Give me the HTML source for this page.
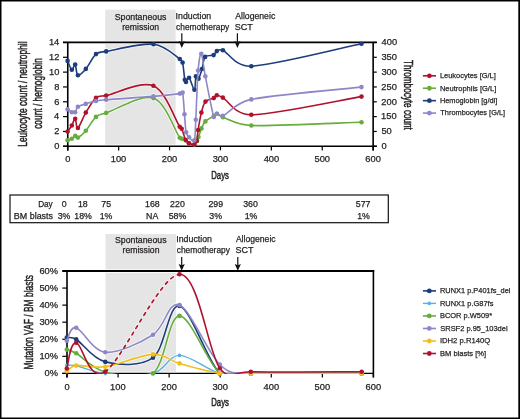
<!DOCTYPE html>
<html><head><meta charset="utf-8"><style>
html,body{margin:0;padding:0;background:#fff;}
svg{display:block;will-change:transform;}
text{font-family:"Liberation Sans", sans-serif;}
</style></head><body>
<svg width="520" height="419" viewBox="0 0 520 419">
<rect x="0" y="0" width="520" height="419" fill="#000"/>
<rect x="1.5" y="1.5" width="516.8" height="416" fill="#fff"/>
<rect x="105.2" y="9.7" width="70.4" height="134.9" fill="#e5e5e5"/><rect x="105.2" y="40.8" width="70.4" height="3.4" fill="#fff"/>
<line x1="63" y1="42.45" x2="376.8" y2="42.45" stroke="#000" stroke-width="1.7"/>
<line x1="63" y1="146.3" x2="376.8" y2="146.3" stroke="#000" stroke-width="1.6"/>
<line x1="67.75" y1="42.45" x2="67.75" y2="150.6" stroke="#000" stroke-width="1.6"/>
<line x1="373.15" y1="42.45" x2="373.15" y2="150.6" stroke="#000" stroke-width="1.6"/>
<line x1="63" y1="146.3" x2="67.75" y2="146.3" stroke="#000" stroke-width="1.2"/>
<line x1="373.15" y1="146.3" x2="376.8" y2="146.3" stroke="#000" stroke-width="1.2"/>
<line x1="63" y1="131.46" x2="67.75" y2="131.46" stroke="#000" stroke-width="1.2"/>
<line x1="373.15" y1="131.46" x2="376.8" y2="131.46" stroke="#000" stroke-width="1.2"/>
<line x1="63" y1="116.63" x2="67.75" y2="116.63" stroke="#000" stroke-width="1.2"/>
<line x1="373.15" y1="116.63" x2="376.8" y2="116.63" stroke="#000" stroke-width="1.2"/>
<line x1="63" y1="101.79" x2="67.75" y2="101.79" stroke="#000" stroke-width="1.2"/>
<line x1="373.15" y1="101.79" x2="376.8" y2="101.79" stroke="#000" stroke-width="1.2"/>
<line x1="63" y1="86.96" x2="67.75" y2="86.96" stroke="#000" stroke-width="1.2"/>
<line x1="373.15" y1="86.96" x2="376.8" y2="86.96" stroke="#000" stroke-width="1.2"/>
<line x1="63" y1="72.12" x2="67.75" y2="72.12" stroke="#000" stroke-width="1.2"/>
<line x1="373.15" y1="72.12" x2="376.8" y2="72.12" stroke="#000" stroke-width="1.2"/>
<line x1="63" y1="57.29" x2="67.75" y2="57.29" stroke="#000" stroke-width="1.2"/>
<line x1="373.15" y1="57.29" x2="376.8" y2="57.29" stroke="#000" stroke-width="1.2"/>
<line x1="63" y1="42.45" x2="67.75" y2="42.45" stroke="#000" stroke-width="1.2"/>
<line x1="373.15" y1="42.45" x2="376.8" y2="42.45" stroke="#000" stroke-width="1.2"/>
<line x1="67.75" y1="146.3" x2="67.75" y2="150.4" stroke="#000" stroke-width="1.2"/>
<line x1="118.65" y1="146.3" x2="118.65" y2="150.4" stroke="#000" stroke-width="1.2"/>
<line x1="169.55" y1="146.3" x2="169.55" y2="150.4" stroke="#000" stroke-width="1.2"/>
<line x1="220.45" y1="146.3" x2="220.45" y2="150.4" stroke="#000" stroke-width="1.2"/>
<line x1="271.35" y1="146.3" x2="271.35" y2="150.4" stroke="#000" stroke-width="1.2"/>
<line x1="322.25" y1="146.3" x2="322.25" y2="150.4" stroke="#000" stroke-width="1.2"/>
<line x1="373.15" y1="146.3" x2="373.15" y2="150.4" stroke="#000" stroke-width="1.2"/>
<clipPath id="ct"><rect x="60" y="30" width="320" height="117"/></clipPath>
<clipPath id="cb"><rect x="60" y="260" width="320" height="114.1"/></clipPath>
<clipPath id="gt"><rect x="105.2" y="44.2" width="70.4" height="100.4"/></clipPath>
<clipPath id="gb"><rect x="105.5" y="272.8" width="70.5" height="98.9"/></clipPath>
<g clip-path="url(#gt)" opacity="0.7"><path d="M67.6,140.2 C68.3,139.95 70.53,139.42 71.8,138.7 C73.07,137.98 74.18,136.08 75.2,135.9 C76.22,135.72 76.46,138.29 77.9,137.6 C79.67,136.75 82.78,134.25 85.8,130.8 C88.82,127.35 92.6,119.88 96,116.9 C99.4,113.92 100.99,114.61 106.2,112.9 C115.77,109.77 141.15,93.97 153.4,98.1 C165.65,102.23 174.93,130.93 179.7,137.7 C180.42,138.73 181,138.28 182,138.7 C183,139.12 184.53,139.45 185.7,140.2 C186.87,140.95 187.57,142.47 189,143.2 C190.43,143.93 192.98,144.98 194.3,144.6 C195.62,144.22 196.2,142.17 196.9,140.9 C197.6,139.63 197.77,138.98 198.5,137 C199.27,134.92 200.35,131 201.5,128.4 C202.65,125.8 203.35,123.47 205.4,121.4 C207.45,119.33 211.88,117.27 213.8,116 C215.39,114.95 215.38,113.58 216.9,113.8 C218.42,114.02 219.61,116.18 222.9,117.3 C228.63,119.25 236.53,124.98 251.3,125.5 C274.4,126.32 343.13,122.75 361.5,122.2" fill="none" stroke="#fff" stroke-width="3.2" stroke-linejoin="round"/><circle cx="67.6" cy="140.2" r="3.0999999999999996" fill="#fff"/><circle cx="71.8" cy="138.7" r="3.0999999999999996" fill="#fff"/><circle cx="75.2" cy="135.9" r="3.0999999999999996" fill="#fff"/><circle cx="77.9" cy="137.6" r="3.0999999999999996" fill="#fff"/><circle cx="85.8" cy="130.8" r="3.0999999999999996" fill="#fff"/><circle cx="96" cy="116.9" r="3.0999999999999996" fill="#fff"/><circle cx="106.2" cy="112.9" r="3.0999999999999996" fill="#fff"/><circle cx="153.4" cy="98.1" r="3.0999999999999996" fill="#fff"/><circle cx="179.7" cy="137.7" r="3.0999999999999996" fill="#fff"/><circle cx="182" cy="138.7" r="3.0999999999999996" fill="#fff"/><circle cx="185.7" cy="140.2" r="3.0999999999999996" fill="#fff"/><circle cx="189" cy="143.2" r="3.0999999999999996" fill="#fff"/><circle cx="194.3" cy="144.6" r="3.0999999999999996" fill="#fff"/><circle cx="196.9" cy="140.9" r="3.0999999999999996" fill="#fff"/><circle cx="198.5" cy="137" r="3.0999999999999996" fill="#fff"/><circle cx="201.5" cy="128.4" r="3.0999999999999996" fill="#fff"/><circle cx="205.4" cy="121.4" r="3.0999999999999996" fill="#fff"/><circle cx="213.8" cy="116" r="3.0999999999999996" fill="#fff"/><circle cx="216.9" cy="113.8" r="3.0999999999999996" fill="#fff"/><circle cx="222.9" cy="117.3" r="3.0999999999999996" fill="#fff"/><circle cx="251.3" cy="125.5" r="3.0999999999999996" fill="#fff"/><circle cx="361.5" cy="122.2" r="3.0999999999999996" fill="#fff"/></g>
<g clip-path="url(#gt)" opacity="0.7"><path d="M67.6,131.5 C68.3,130.5 70.53,127.63 71.8,125.5 C73.07,123.37 74.18,118.28 75.2,118.7 C76.22,119.12 76.13,129.02 77.9,128 C79.67,126.98 82.78,117.62 85.8,112.6 C88.82,107.58 92.6,100.73 96,97.9 C99.4,95.07 101.08,96.68 106.2,95.6 C115.77,93.58 141.15,80.62 153.4,85.8 C165.65,90.98 174.98,119.55 179.7,126.7 C180.48,127.88 181.12,127.41 181.7,128.7 C182.7,130.93 184.48,137.68 185.7,140.1 C186.72,142.12 187.57,142.45 189,143.2 C190.43,143.95 192.98,145.02 194.3,144.6 C195.62,144.18 196.31,142.97 196.9,140.7 C197.53,138.27 197.35,134.68 198.1,130 C198.85,125.32 200.17,117.33 201.4,112.6 C202.63,107.87 203.43,104.02 205.5,101.6 C207.57,99.18 211.92,99.17 213.8,98.1 C215.62,97.07 215.3,95.28 216.8,95.2 C218.3,95.12 219.99,96 222.8,97.6 C228.55,100.87 234.66,114.92 251.3,114.8 C274.42,114.63 343.13,99.63 361.5,96.6" fill="none" stroke="#fff" stroke-width="3.2" stroke-linejoin="round"/><circle cx="67.6" cy="131.5" r="3.0999999999999996" fill="#fff"/><circle cx="71.8" cy="125.5" r="3.0999999999999996" fill="#fff"/><circle cx="75.2" cy="118.7" r="3.0999999999999996" fill="#fff"/><circle cx="77.9" cy="128" r="3.0999999999999996" fill="#fff"/><circle cx="85.8" cy="112.6" r="3.0999999999999996" fill="#fff"/><circle cx="96" cy="97.9" r="3.0999999999999996" fill="#fff"/><circle cx="106.2" cy="95.6" r="3.0999999999999996" fill="#fff"/><circle cx="153.4" cy="85.8" r="3.0999999999999996" fill="#fff"/><circle cx="179.7" cy="126.7" r="3.0999999999999996" fill="#fff"/><circle cx="181.7" cy="128.7" r="3.0999999999999996" fill="#fff"/><circle cx="185.7" cy="140.1" r="3.0999999999999996" fill="#fff"/><circle cx="189" cy="143.2" r="3.0999999999999996" fill="#fff"/><circle cx="194.3" cy="144.6" r="3.0999999999999996" fill="#fff"/><circle cx="196.9" cy="140.7" r="3.0999999999999996" fill="#fff"/><circle cx="198.1" cy="130" r="3.0999999999999996" fill="#fff"/><circle cx="201.4" cy="112.6" r="3.0999999999999996" fill="#fff"/><circle cx="205.5" cy="101.6" r="3.0999999999999996" fill="#fff"/><circle cx="213.8" cy="98.1" r="3.0999999999999996" fill="#fff"/><circle cx="216.8" cy="95.2" r="3.0999999999999996" fill="#fff"/><circle cx="222.8" cy="97.6" r="3.0999999999999996" fill="#fff"/><circle cx="251.3" cy="114.8" r="3.0999999999999996" fill="#fff"/><circle cx="361.5" cy="96.6" r="3.0999999999999996" fill="#fff"/></g>
<g clip-path="url(#gt)" opacity="0.7"><path d="M67.6,60.9 C68.3,62.38 70.53,69.2 71.8,69.8 C73.07,70.4 74.18,63.6 75.2,64.5 C76.22,65.4 76.13,74.47 77.9,75.2 C79.67,75.93 82.78,72.42 85.8,68.9 C88.82,65.38 92.6,57.02 96,54.1 C99.4,51.18 101,52.29 106.2,51.4 C115.77,49.77 141.13,43.03 153.4,44.3 C165.67,45.57 174.93,55.95 179.8,59 C181.73,60.21 182.07,60.38 182.6,62.6 C183.43,66.07 184.23,76.57 184.8,79.8 C185.02,81.03 185.28,82.35 186,82 C186.72,81.65 187.7,76.4 189.1,77.7 C190.5,79 193.27,90.03 194.4,89.8 C195.53,89.57 195.22,78.15 195.9,76.3 C196.51,74.64 197.48,79.92 198.5,78.7 C199.52,77.48 200.9,72.63 202,69 C203.1,65.37 203.17,59.22 205.1,56.9 C207.03,54.58 211.65,56.07 213.6,55.1 C215.55,54.13 215.25,51.92 216.8,51.1 C218.35,50.28 220.08,48.96 222.9,50.2 C228.65,52.72 235.02,66.96 251.3,66.2 C274.4,65.12 343.13,47.45 361.5,43.7" fill="none" stroke="#fff" stroke-width="3.2" stroke-linejoin="round"/><circle cx="67.6" cy="60.9" r="3.0999999999999996" fill="#fff"/><circle cx="71.8" cy="69.8" r="3.0999999999999996" fill="#fff"/><circle cx="75.2" cy="64.5" r="3.0999999999999996" fill="#fff"/><circle cx="77.9" cy="75.2" r="3.0999999999999996" fill="#fff"/><circle cx="85.8" cy="68.9" r="3.0999999999999996" fill="#fff"/><circle cx="96" cy="54.1" r="3.0999999999999996" fill="#fff"/><circle cx="106.2" cy="51.4" r="3.0999999999999996" fill="#fff"/><circle cx="153.4" cy="44.3" r="3.0999999999999996" fill="#fff"/><circle cx="179.8" cy="59" r="3.0999999999999996" fill="#fff"/><circle cx="182.6" cy="62.6" r="3.0999999999999996" fill="#fff"/><circle cx="184.8" cy="79.8" r="3.0999999999999996" fill="#fff"/><circle cx="186" cy="82" r="3.0999999999999996" fill="#fff"/><circle cx="189.1" cy="77.7" r="3.0999999999999996" fill="#fff"/><circle cx="194.4" cy="89.8" r="3.0999999999999996" fill="#fff"/><circle cx="195.9" cy="76.3" r="3.0999999999999996" fill="#fff"/><circle cx="198.5" cy="78.7" r="3.0999999999999996" fill="#fff"/><circle cx="202" cy="69" r="3.0999999999999996" fill="#fff"/><circle cx="205.1" cy="56.9" r="3.0999999999999996" fill="#fff"/><circle cx="213.6" cy="55.1" r="3.0999999999999996" fill="#fff"/><circle cx="216.8" cy="51.1" r="3.0999999999999996" fill="#fff"/><circle cx="222.9" cy="50.2" r="3.0999999999999996" fill="#fff"/><circle cx="251.3" cy="66.2" r="3.0999999999999996" fill="#fff"/><circle cx="361.5" cy="43.7" r="3.0999999999999996" fill="#fff"/></g>
<g clip-path="url(#gt)" opacity="0.7"><path d="M67.6,109.3 C68.3,109.78 70.53,111.72 71.8,112.2 C73.07,112.68 74.18,113.1 75.2,112.2 C76.22,111.3 76.13,108.18 77.9,106.8 C79.67,105.42 82.78,104.87 85.8,103.9 C88.82,102.93 92.6,101.7 96,101 C99.4,100.3 101.08,100.11 106.2,99.7 C115.77,98.93 141.12,97.42 153.4,96.4 C165.68,95.38 175.03,94.25 179.9,93.6 C181.34,93.41 182.28,91.08 182.6,92.5 C183.37,95.93 183.92,107.58 184.5,114.2 C185.08,120.82 185.33,128.35 186.1,132.2 C186.68,135.1 187.73,135.97 189.1,137.3 C190.47,138.63 193.24,142.98 194.3,140.2 C195.42,137.28 195.24,130.01 195.8,119.8 C196.43,108.2 197.18,81.6 198.1,70.6 C198.81,62.08 200.1,52.87 201.3,53.8 C202.5,54.73 203.22,65.67 205.3,76.2 C207.38,86.73 211.87,110.75 213.8,117 C214.47,119.16 215.4,113.9 216.9,113.7 C218.4,113.5 219.91,117 222.8,115.8 C228.53,113.42 235.2,102.73 251.3,99.4 C274.42,94.62 343.13,89.15 361.5,87.1" fill="none" stroke="#fff" stroke-width="3.2" stroke-linejoin="round"/><circle cx="67.6" cy="109.3" r="3.0999999999999996" fill="#fff"/><circle cx="71.8" cy="112.2" r="3.0999999999999996" fill="#fff"/><circle cx="75.2" cy="112.2" r="3.0999999999999996" fill="#fff"/><circle cx="77.9" cy="106.8" r="3.0999999999999996" fill="#fff"/><circle cx="85.8" cy="103.9" r="3.0999999999999996" fill="#fff"/><circle cx="96" cy="101" r="3.0999999999999996" fill="#fff"/><circle cx="106.2" cy="99.7" r="3.0999999999999996" fill="#fff"/><circle cx="153.4" cy="96.4" r="3.0999999999999996" fill="#fff"/><circle cx="179.9" cy="93.6" r="3.0999999999999996" fill="#fff"/><circle cx="182.6" cy="92.5" r="3.0999999999999996" fill="#fff"/><circle cx="184.5" cy="114.2" r="3.0999999999999996" fill="#fff"/><circle cx="186.1" cy="132.2" r="3.0999999999999996" fill="#fff"/><circle cx="189.1" cy="137.3" r="3.0999999999999996" fill="#fff"/><circle cx="194.3" cy="140.2" r="3.0999999999999996" fill="#fff"/><circle cx="195.8" cy="119.8" r="3.0999999999999996" fill="#fff"/><circle cx="198.1" cy="70.6" r="3.0999999999999996" fill="#fff"/><circle cx="201.3" cy="53.8" r="3.0999999999999996" fill="#fff"/><circle cx="205.3" cy="76.2" r="3.0999999999999996" fill="#fff"/><circle cx="213.8" cy="117" r="3.0999999999999996" fill="#fff"/><circle cx="216.9" cy="113.7" r="3.0999999999999996" fill="#fff"/><circle cx="222.8" cy="115.8" r="3.0999999999999996" fill="#fff"/><circle cx="251.3" cy="99.4" r="3.0999999999999996" fill="#fff"/><circle cx="361.5" cy="87.1" r="3.0999999999999996" fill="#fff"/></g>
<path d="M67.6,140.2 C68.3,139.95 70.53,139.42 71.8,138.7 C73.07,137.98 74.18,136.08 75.2,135.9 C76.22,135.72 76.46,138.29 77.9,137.6 C79.67,136.75 82.78,134.25 85.8,130.8 C88.82,127.35 92.6,119.88 96,116.9 C99.4,113.92 100.99,114.61 106.2,112.9 C115.77,109.77 141.15,93.97 153.4,98.1 C165.65,102.23 174.93,130.93 179.7,137.7 C180.42,138.73 181,138.28 182,138.7 C183,139.12 184.53,139.45 185.7,140.2 C186.87,140.95 187.57,142.47 189,143.2 C190.43,143.93 192.98,144.98 194.3,144.6 C195.62,144.22 196.2,142.17 196.9,140.9 C197.6,139.63 197.77,138.98 198.5,137 C199.27,134.92 200.35,131 201.5,128.4 C202.65,125.8 203.35,123.47 205.4,121.4 C207.45,119.33 211.88,117.27 213.8,116 C215.39,114.95 215.38,113.58 216.9,113.8 C218.42,114.02 219.61,116.18 222.9,117.3 C228.63,119.25 236.53,124.98 251.3,125.5 C274.4,126.32 343.13,122.75 361.5,122.2" fill="none" stroke="#67ad3b" stroke-width="1.6" stroke-linejoin="round" stroke-linecap="round" clip-path="url(#ct)"/>
<circle cx="67.6" cy="140.2" r="2.3" fill="#67ad3b"/>
<circle cx="71.8" cy="138.7" r="2.3" fill="#67ad3b"/>
<circle cx="75.2" cy="135.9" r="2.3" fill="#67ad3b"/>
<circle cx="77.9" cy="137.6" r="2.3" fill="#67ad3b"/>
<circle cx="85.8" cy="130.8" r="2.3" fill="#67ad3b"/>
<circle cx="96" cy="116.9" r="2.3" fill="#67ad3b"/>
<circle cx="106.2" cy="112.9" r="2.3" fill="#67ad3b"/>
<circle cx="153.4" cy="98.1" r="2.3" fill="#67ad3b"/>
<circle cx="179.7" cy="137.7" r="2.3" fill="#67ad3b"/>
<circle cx="182" cy="138.7" r="2.3" fill="#67ad3b"/>
<circle cx="185.7" cy="140.2" r="2.3" fill="#67ad3b"/>
<circle cx="189" cy="143.2" r="2.3" fill="#67ad3b"/>
<circle cx="194.3" cy="144.6" r="2.3" fill="#67ad3b"/>
<circle cx="196.9" cy="140.9" r="2.3" fill="#67ad3b"/>
<circle cx="198.5" cy="137" r="2.3" fill="#67ad3b"/>
<circle cx="201.5" cy="128.4" r="2.3" fill="#67ad3b"/>
<circle cx="205.4" cy="121.4" r="2.3" fill="#67ad3b"/>
<circle cx="213.8" cy="116" r="2.3" fill="#67ad3b"/>
<circle cx="216.9" cy="113.8" r="2.3" fill="#67ad3b"/>
<circle cx="222.9" cy="117.3" r="2.3" fill="#67ad3b"/>
<circle cx="251.3" cy="125.5" r="2.3" fill="#67ad3b"/>
<circle cx="361.5" cy="122.2" r="2.3" fill="#67ad3b"/>
<path d="M67.6,131.5 C68.3,130.5 70.53,127.63 71.8,125.5 C73.07,123.37 74.18,118.28 75.2,118.7 C76.22,119.12 76.13,129.02 77.9,128 C79.67,126.98 82.78,117.62 85.8,112.6 C88.82,107.58 92.6,100.73 96,97.9 C99.4,95.07 101.08,96.68 106.2,95.6 C115.77,93.58 141.15,80.62 153.4,85.8 C165.65,90.98 174.98,119.55 179.7,126.7 C180.48,127.88 181.12,127.41 181.7,128.7 C182.7,130.93 184.48,137.68 185.7,140.1 C186.72,142.12 187.57,142.45 189,143.2 C190.43,143.95 192.98,145.02 194.3,144.6 C195.62,144.18 196.31,142.97 196.9,140.7 C197.53,138.27 197.35,134.68 198.1,130 C198.85,125.32 200.17,117.33 201.4,112.6 C202.63,107.87 203.43,104.02 205.5,101.6 C207.57,99.18 211.92,99.17 213.8,98.1 C215.62,97.07 215.3,95.28 216.8,95.2 C218.3,95.12 219.99,96 222.8,97.6 C228.55,100.87 234.66,114.92 251.3,114.8 C274.42,114.63 343.13,99.63 361.5,96.6" fill="none" stroke="#b0122c" stroke-width="1.6" stroke-linejoin="round" stroke-linecap="round" clip-path="url(#ct)"/>
<circle cx="67.6" cy="131.5" r="2.3" fill="#b0122c"/>
<circle cx="71.8" cy="125.5" r="2.3" fill="#b0122c"/>
<circle cx="75.2" cy="118.7" r="2.3" fill="#b0122c"/>
<circle cx="77.9" cy="128" r="2.3" fill="#b0122c"/>
<circle cx="85.8" cy="112.6" r="2.3" fill="#b0122c"/>
<circle cx="96" cy="97.9" r="2.3" fill="#b0122c"/>
<circle cx="106.2" cy="95.6" r="2.3" fill="#b0122c"/>
<circle cx="153.4" cy="85.8" r="2.3" fill="#b0122c"/>
<circle cx="179.7" cy="126.7" r="2.3" fill="#b0122c"/>
<circle cx="181.7" cy="128.7" r="2.3" fill="#b0122c"/>
<circle cx="185.7" cy="140.1" r="2.3" fill="#b0122c"/>
<circle cx="189" cy="143.2" r="2.3" fill="#b0122c"/>
<circle cx="194.3" cy="144.6" r="2.3" fill="#b0122c"/>
<circle cx="196.9" cy="140.7" r="2.3" fill="#b0122c"/>
<circle cx="198.1" cy="130" r="2.3" fill="#b0122c"/>
<circle cx="201.4" cy="112.6" r="2.3" fill="#b0122c"/>
<circle cx="205.5" cy="101.6" r="2.3" fill="#b0122c"/>
<circle cx="213.8" cy="98.1" r="2.3" fill="#b0122c"/>
<circle cx="216.8" cy="95.2" r="2.3" fill="#b0122c"/>
<circle cx="222.8" cy="97.6" r="2.3" fill="#b0122c"/>
<circle cx="251.3" cy="114.8" r="2.3" fill="#b0122c"/>
<circle cx="361.5" cy="96.6" r="2.3" fill="#b0122c"/>
<path d="M67.6,60.9 C68.3,62.38 70.53,69.2 71.8,69.8 C73.07,70.4 74.18,63.6 75.2,64.5 C76.22,65.4 76.13,74.47 77.9,75.2 C79.67,75.93 82.78,72.42 85.8,68.9 C88.82,65.38 92.6,57.02 96,54.1 C99.4,51.18 101,52.29 106.2,51.4 C115.77,49.77 141.13,43.03 153.4,44.3 C165.67,45.57 174.93,55.95 179.8,59 C181.73,60.21 182.07,60.38 182.6,62.6 C183.43,66.07 184.23,76.57 184.8,79.8 C185.02,81.03 185.28,82.35 186,82 C186.72,81.65 187.7,76.4 189.1,77.7 C190.5,79 193.27,90.03 194.4,89.8 C195.53,89.57 195.22,78.15 195.9,76.3 C196.51,74.64 197.48,79.92 198.5,78.7 C199.52,77.48 200.9,72.63 202,69 C203.1,65.37 203.17,59.22 205.1,56.9 C207.03,54.58 211.65,56.07 213.6,55.1 C215.55,54.13 215.25,51.92 216.8,51.1 C218.35,50.28 220.08,48.96 222.9,50.2 C228.65,52.72 235.02,66.96 251.3,66.2 C274.4,65.12 343.13,47.45 361.5,43.7" fill="none" stroke="#1b3d7c" stroke-width="1.6" stroke-linejoin="round" stroke-linecap="round" clip-path="url(#ct)"/>
<circle cx="67.6" cy="60.9" r="2.3" fill="#1b3d7c"/>
<circle cx="71.8" cy="69.8" r="2.3" fill="#1b3d7c"/>
<circle cx="75.2" cy="64.5" r="2.3" fill="#1b3d7c"/>
<circle cx="77.9" cy="75.2" r="2.3" fill="#1b3d7c"/>
<circle cx="85.8" cy="68.9" r="2.3" fill="#1b3d7c"/>
<circle cx="96" cy="54.1" r="2.3" fill="#1b3d7c"/>
<circle cx="106.2" cy="51.4" r="2.3" fill="#1b3d7c"/>
<circle cx="153.4" cy="44.3" r="2.3" fill="#1b3d7c"/>
<circle cx="179.8" cy="59" r="2.3" fill="#1b3d7c"/>
<circle cx="182.6" cy="62.6" r="2.3" fill="#1b3d7c"/>
<circle cx="184.8" cy="79.8" r="2.3" fill="#1b3d7c"/>
<circle cx="186" cy="82" r="2.3" fill="#1b3d7c"/>
<circle cx="189.1" cy="77.7" r="2.3" fill="#1b3d7c"/>
<circle cx="194.4" cy="89.8" r="2.3" fill="#1b3d7c"/>
<circle cx="195.9" cy="76.3" r="2.3" fill="#1b3d7c"/>
<circle cx="198.5" cy="78.7" r="2.3" fill="#1b3d7c"/>
<circle cx="202" cy="69" r="2.3" fill="#1b3d7c"/>
<circle cx="205.1" cy="56.9" r="2.3" fill="#1b3d7c"/>
<circle cx="213.6" cy="55.1" r="2.3" fill="#1b3d7c"/>
<circle cx="216.8" cy="51.1" r="2.3" fill="#1b3d7c"/>
<circle cx="222.9" cy="50.2" r="2.3" fill="#1b3d7c"/>
<circle cx="251.3" cy="66.2" r="2.3" fill="#1b3d7c"/>
<circle cx="361.5" cy="43.7" r="2.3" fill="#1b3d7c"/>
<path d="M67.6,109.3 C68.3,109.78 70.53,111.72 71.8,112.2 C73.07,112.68 74.18,113.1 75.2,112.2 C76.22,111.3 76.13,108.18 77.9,106.8 C79.67,105.42 82.78,104.87 85.8,103.9 C88.82,102.93 92.6,101.7 96,101 C99.4,100.3 101.08,100.11 106.2,99.7 C115.77,98.93 141.12,97.42 153.4,96.4 C165.68,95.38 175.03,94.25 179.9,93.6 C181.34,93.41 182.28,91.08 182.6,92.5 C183.37,95.93 183.92,107.58 184.5,114.2 C185.08,120.82 185.33,128.35 186.1,132.2 C186.68,135.1 187.73,135.97 189.1,137.3 C190.47,138.63 193.24,142.98 194.3,140.2 C195.42,137.28 195.24,130.01 195.8,119.8 C196.43,108.2 197.18,81.6 198.1,70.6 C198.81,62.08 200.1,52.87 201.3,53.8 C202.5,54.73 203.22,65.67 205.3,76.2 C207.38,86.73 211.87,110.75 213.8,117 C214.47,119.16 215.4,113.9 216.9,113.7 C218.4,113.5 219.91,117 222.8,115.8 C228.53,113.42 235.2,102.73 251.3,99.4 C274.42,94.62 343.13,89.15 361.5,87.1" fill="none" stroke="#8d87c7" stroke-width="1.6" stroke-linejoin="round" stroke-linecap="round" clip-path="url(#ct)"/>
<circle cx="67.6" cy="109.3" r="2.3" fill="#8d87c7"/>
<circle cx="71.8" cy="112.2" r="2.3" fill="#8d87c7"/>
<circle cx="75.2" cy="112.2" r="2.3" fill="#8d87c7"/>
<circle cx="77.9" cy="106.8" r="2.3" fill="#8d87c7"/>
<circle cx="85.8" cy="103.9" r="2.3" fill="#8d87c7"/>
<circle cx="96" cy="101" r="2.3" fill="#8d87c7"/>
<circle cx="106.2" cy="99.7" r="2.3" fill="#8d87c7"/>
<circle cx="153.4" cy="96.4" r="2.3" fill="#8d87c7"/>
<circle cx="179.9" cy="93.6" r="2.3" fill="#8d87c7"/>
<circle cx="182.6" cy="92.5" r="2.3" fill="#8d87c7"/>
<circle cx="184.5" cy="114.2" r="2.3" fill="#8d87c7"/>
<circle cx="186.1" cy="132.2" r="2.3" fill="#8d87c7"/>
<circle cx="189.1" cy="137.3" r="2.3" fill="#8d87c7"/>
<circle cx="194.3" cy="140.2" r="2.3" fill="#8d87c7"/>
<circle cx="195.8" cy="119.8" r="2.3" fill="#8d87c7"/>
<circle cx="198.1" cy="70.6" r="2.3" fill="#8d87c7"/>
<circle cx="201.3" cy="53.8" r="2.3" fill="#8d87c7"/>
<circle cx="205.3" cy="76.2" r="2.3" fill="#8d87c7"/>
<circle cx="213.8" cy="117" r="2.3" fill="#8d87c7"/>
<circle cx="216.9" cy="113.7" r="2.3" fill="#8d87c7"/>
<circle cx="222.8" cy="115.8" r="2.3" fill="#8d87c7"/>
<circle cx="251.3" cy="99.4" r="2.3" fill="#8d87c7"/>
<circle cx="361.5" cy="87.1" r="2.3" fill="#8d87c7"/>
<text x="54.19" y="149.05" font-size="8.7" textLength="5.18" lengthAdjust="spacingAndGlyphs" fill="#231f20" stroke="#231f20" stroke-width="0.25">0</text>
<text x="54.29" y="134.21" font-size="8.7" textLength="5.18" lengthAdjust="spacingAndGlyphs" fill="#231f20" stroke="#231f20" stroke-width="0.25">2</text>
<text x="54.09" y="119.38" font-size="8.7" textLength="5.18" lengthAdjust="spacingAndGlyphs" fill="#231f20" stroke="#231f20" stroke-width="0.25">4</text>
<text x="54.23" y="104.54" font-size="8.7" textLength="5.18" lengthAdjust="spacingAndGlyphs" fill="#231f20" stroke="#231f20" stroke-width="0.25">6</text>
<text x="54.22" y="89.71" font-size="8.7" textLength="5.18" lengthAdjust="spacingAndGlyphs" fill="#231f20" stroke="#231f20" stroke-width="0.25">8</text>
<text x="49.01" y="74.87" font-size="8.7" textLength="10.35" lengthAdjust="spacingAndGlyphs" fill="#231f20" stroke="#231f20" stroke-width="0.25">10</text>
<text x="49.11" y="60.04" font-size="8.7" textLength="10.35" lengthAdjust="spacingAndGlyphs" fill="#231f20" stroke="#231f20" stroke-width="0.25">12</text>
<text x="48.92" y="45.2" font-size="8.7" textLength="10.35" lengthAdjust="spacingAndGlyphs" fill="#231f20" stroke="#231f20" stroke-width="0.25">14</text>
<text x="381.44" y="149.05" font-size="8.7" textLength="5.18" lengthAdjust="spacingAndGlyphs" fill="#231f20" stroke="#231f20" stroke-width="0.25">0</text>
<text x="381.43" y="134.21" font-size="8.7" textLength="10.35" lengthAdjust="spacingAndGlyphs" fill="#231f20" stroke="#231f20" stroke-width="0.25">50</text>
<text x="381.09" y="119.38" font-size="8.7" textLength="15.53" lengthAdjust="spacingAndGlyphs" fill="#231f20" stroke="#231f20" stroke-width="0.25">150</text>
<text x="381.33" y="104.54" font-size="8.7" textLength="15.53" lengthAdjust="spacingAndGlyphs" fill="#231f20" stroke="#231f20" stroke-width="0.25">200</text>
<text x="381.33" y="89.71" font-size="8.7" textLength="15.53" lengthAdjust="spacingAndGlyphs" fill="#231f20" stroke="#231f20" stroke-width="0.25">250</text>
<text x="381.45" y="74.87" font-size="8.7" textLength="15.53" lengthAdjust="spacingAndGlyphs" fill="#231f20" stroke="#231f20" stroke-width="0.25">300</text>
<text x="381.45" y="60.04" font-size="8.7" textLength="15.53" lengthAdjust="spacingAndGlyphs" fill="#231f20" stroke="#231f20" stroke-width="0.25">350</text>
<text x="381.59" y="45.2" font-size="8.7" textLength="15.53" lengthAdjust="spacingAndGlyphs" fill="#231f20" stroke="#231f20" stroke-width="0.25">400</text>
<text x="65.16" y="162.3" font-size="8.7" textLength="5.18" lengthAdjust="spacingAndGlyphs" fill="#231f20" stroke="#231f20" stroke-width="0.25">0</text>
<text x="110.71" y="162.3" font-size="8.7" textLength="15.53" lengthAdjust="spacingAndGlyphs" fill="#231f20" stroke="#231f20" stroke-width="0.25">100</text>
<text x="161.74" y="162.3" font-size="8.7" textLength="15.53" lengthAdjust="spacingAndGlyphs" fill="#231f20" stroke="#231f20" stroke-width="0.25">200</text>
<text x="212.69" y="162.3" font-size="8.7" textLength="15.53" lengthAdjust="spacingAndGlyphs" fill="#231f20" stroke="#231f20" stroke-width="0.25">300</text>
<text x="263.66" y="162.3" font-size="8.7" textLength="15.53" lengthAdjust="spacingAndGlyphs" fill="#231f20" stroke="#231f20" stroke-width="0.25">400</text>
<text x="314.48" y="162.3" font-size="8.7" textLength="15.53" lengthAdjust="spacingAndGlyphs" fill="#231f20" stroke="#231f20" stroke-width="0.25">500</text>
<text x="365.33" y="162.3" font-size="8.7" textLength="15.53" lengthAdjust="spacingAndGlyphs" fill="#231f20" stroke="#231f20" stroke-width="0.25">600</text>
<text x="114.7" y="19.5" font-size="9" textLength="51.72" lengthAdjust="spacingAndGlyphs" fill="#231f20" stroke="#231f20" stroke-width="0.25">Spontaneous</text>
<text x="122.23" y="30" font-size="9" textLength="36.83" lengthAdjust="spacingAndGlyphs" fill="#231f20" stroke="#231f20" stroke-width="0.25">remission</text>
<text x="175.59" y="19.1" font-size="9" textLength="35.69" lengthAdjust="spacingAndGlyphs" fill="#231f20" stroke="#231f20" stroke-width="0.25">Induction</text>
<text x="176.05" y="29.7" font-size="9" textLength="53.27" lengthAdjust="spacingAndGlyphs" fill="#231f20" stroke="#231f20" stroke-width="0.25">chemotherapy</text>
<text x="235.18" y="19.1" font-size="9" textLength="40.05" lengthAdjust="spacingAndGlyphs" fill="#231f20" stroke="#231f20" stroke-width="0.25">Allogeneic</text>
<text x="234.79" y="29.7" font-size="9" textLength="18" lengthAdjust="spacingAndGlyphs" fill="#231f20" stroke="#231f20" stroke-width="0.25">SCT</text>
<line x1="181.8" y1="33.2" x2="181.8" y2="44.9" stroke="#111" stroke-width="1.2"/>
<path d="M178.7,41 L181.8,47.9 L184.9,41 L181.8,42.3 Z" fill="#111"/>
<line x1="237.4" y1="33.2" x2="237.4" y2="44.9" stroke="#111" stroke-width="1.2"/>
<path d="M234.3,41 L237.4,47.9 L240.5,41 L237.4,42.3 Z" fill="#111"/>
<text x="211.26" y="178.85" font-size="11.7" textLength="17.72" lengthAdjust="spacingAndGlyphs" fill="#231f20" stroke="#231f20" stroke-width="0.5">Days</text>
<text transform="translate(26.7,146.1) rotate(-90)" x="-0.69" y="0" font-size="12.7" textLength="105.36" lengthAdjust="spacingAndGlyphs" fill="#231f20" stroke="#231f20" stroke-width="0.5">Leukocyte count / neutrophil</text>
<text transform="translate(41.6,128.5) rotate(-90)" x="-0.35" y="0" font-size="12.7" textLength="70.7" lengthAdjust="spacingAndGlyphs" fill="#231f20" stroke="#231f20" stroke-width="0.5">count / hemoglobin</text>
<text transform="translate(404,60.2) rotate(90)" x="-0.18" y="0" font-size="12.7" textLength="69.83" lengthAdjust="spacingAndGlyphs" fill="#231f20" stroke="#231f20" stroke-width="0.5">Thrombocyte count</text>
<line x1="422.9" y1="75.8" x2="436" y2="75.8" stroke="#b0122c" stroke-width="1.6"/>
<circle cx="429.4" cy="75.8" r="2.4" fill="#b0122c"/>
<text x="439.89" y="78.1" font-size="8.1" textLength="55.94" lengthAdjust="spacingAndGlyphs" fill="#231f20" stroke="#231f20" stroke-width="0.25">Leukocytes [G/L]</text>
<line x1="422.9" y1="88.23" x2="436" y2="88.23" stroke="#67ad3b" stroke-width="1.6"/>
<circle cx="429.4" cy="88.23" r="2.4" fill="#67ad3b"/>
<text x="439.88" y="90.53" font-size="8.1" textLength="56.34" lengthAdjust="spacingAndGlyphs" fill="#231f20" stroke="#231f20" stroke-width="0.25">Neutrophils [G/L]</text>
<line x1="422.9" y1="100.66" x2="436" y2="100.66" stroke="#1b3d7c" stroke-width="1.6"/>
<circle cx="429.4" cy="100.66" r="2.4" fill="#1b3d7c"/>
<text x="439.89" y="102.96" font-size="8.1" textLength="57.43" lengthAdjust="spacingAndGlyphs" fill="#231f20" stroke="#231f20" stroke-width="0.25">Hemoglobin [g/dl]</text>
<line x1="422.9" y1="113.09" x2="436" y2="113.09" stroke="#8d87c7" stroke-width="1.6"/>
<circle cx="429.4" cy="113.09" r="2.4" fill="#8d87c7"/>
<text x="440.34" y="115.39" font-size="8.1" textLength="64.78" lengthAdjust="spacingAndGlyphs" fill="#231f20" stroke="#231f20" stroke-width="0.25">Thrombocytes [G/L]</text>
<rect x="10" y="195" width="378.3" height="27.7" fill="none" stroke="#111" stroke-width="1.2"/>
<text x="38.13" y="206.7" font-size="8.8" textLength="14.59" lengthAdjust="spacingAndGlyphs" fill="#231f20" stroke="#231f20" stroke-width="0.25">Day</text>
<text x="13.87" y="218.6" font-size="8.8" textLength="39.15" lengthAdjust="spacingAndGlyphs" fill="#231f20" stroke="#231f20" stroke-width="0.25">BM blasts</text>
<text x="61.8" y="206.7" font-size="8.8" textLength="4.89" lengthAdjust="spacingAndGlyphs" fill="#231f20" stroke="#231f20" stroke-width="0.25">0</text>
<text x="77.96" y="206.7" font-size="8.8" textLength="9.79" lengthAdjust="spacingAndGlyphs" fill="#231f20" stroke="#231f20" stroke-width="0.25">18</text>
<text x="101.32" y="206.7" font-size="8.8" textLength="9.79" lengthAdjust="spacingAndGlyphs" fill="#231f20" stroke="#231f20" stroke-width="0.25">75</text>
<text x="145.02" y="206.7" font-size="8.8" textLength="14.68" lengthAdjust="spacingAndGlyphs" fill="#231f20" stroke="#231f20" stroke-width="0.25">168</text>
<text x="170.11" y="206.7" font-size="8.8" textLength="14.68" lengthAdjust="spacingAndGlyphs" fill="#231f20" stroke="#231f20" stroke-width="0.25">220</text>
<text x="208.4" y="206.7" font-size="8.8" textLength="14.68" lengthAdjust="spacingAndGlyphs" fill="#231f20" stroke="#231f20" stroke-width="0.25">299</text>
<text x="243.17" y="206.7" font-size="8.8" textLength="14.68" lengthAdjust="spacingAndGlyphs" fill="#231f20" stroke="#231f20" stroke-width="0.25">360</text>
<text x="355.8" y="206.7" font-size="8.8" textLength="14.68" lengthAdjust="spacingAndGlyphs" fill="#231f20" stroke="#231f20" stroke-width="0.25">577</text>
<text x="57.63" y="218.6" font-size="8.8" textLength="12.72" lengthAdjust="spacingAndGlyphs" fill="#231f20" stroke="#231f20" stroke-width="0.25">3%</text>
<text x="74.27" y="218.6" font-size="8.8" textLength="17.61" lengthAdjust="spacingAndGlyphs" fill="#231f20" stroke="#231f20" stroke-width="0.25">18%</text>
<text x="99.71" y="218.6" font-size="8.8" textLength="12.72" lengthAdjust="spacingAndGlyphs" fill="#231f20" stroke="#231f20" stroke-width="0.25">1%</text>
<text x="146.04" y="218.6" font-size="8.8" textLength="12.22" lengthAdjust="spacingAndGlyphs" fill="#231f20" stroke="#231f20" stroke-width="0.25">NA</text>
<text x="168.67" y="218.6" font-size="8.8" textLength="17.61" lengthAdjust="spacingAndGlyphs" fill="#231f20" stroke="#231f20" stroke-width="0.25">58%</text>
<text x="209.38" y="218.6" font-size="8.8" textLength="12.72" lengthAdjust="spacingAndGlyphs" fill="#231f20" stroke="#231f20" stroke-width="0.25">3%</text>
<text x="244.71" y="218.6" font-size="8.8" textLength="12.72" lengthAdjust="spacingAndGlyphs" fill="#231f20" stroke="#231f20" stroke-width="0.25">1%</text>
<text x="357.16" y="218.6" font-size="8.8" textLength="12.72" lengthAdjust="spacingAndGlyphs" fill="#231f20" stroke="#231f20" stroke-width="0.25">1%</text>
<rect x="105.5" y="234.0" width="70.5" height="137.7" fill="#e5e5e5"/><rect x="105.5" y="269.3" width="70.5" height="3.5" fill="#fff"/>
<line x1="62.3" y1="271" x2="374.2" y2="271" stroke="#000" stroke-width="1.9"/>
<line x1="62.3" y1="373.4" x2="373.4" y2="373.4" stroke="#000" stroke-width="1.25"/>
<line x1="67" y1="271" x2="67" y2="377.4" stroke="#000" stroke-width="1.6"/>
<line x1="373.4" y1="270.1" x2="373.4" y2="377.4" stroke="#000" stroke-width="1.6"/>
<line x1="62.3" y1="373.4" x2="67" y2="373.4" stroke="#000" stroke-width="1.2"/>
<line x1="62.3" y1="356.33" x2="67" y2="356.33" stroke="#000" stroke-width="1.2"/>
<line x1="62.3" y1="339.27" x2="67" y2="339.27" stroke="#000" stroke-width="1.2"/>
<line x1="62.3" y1="322.2" x2="67" y2="322.2" stroke="#000" stroke-width="1.2"/>
<line x1="62.3" y1="305.13" x2="67" y2="305.13" stroke="#000" stroke-width="1.2"/>
<line x1="62.3" y1="288.07" x2="67" y2="288.07" stroke="#000" stroke-width="1.2"/>
<line x1="62.3" y1="271" x2="67" y2="271" stroke="#000" stroke-width="1.2"/>
<line x1="67" y1="373.4" x2="67" y2="377.4" stroke="#000" stroke-width="1.2"/>
<line x1="118.07" y1="373.4" x2="118.07" y2="377.4" stroke="#000" stroke-width="1.2"/>
<line x1="169.13" y1="373.4" x2="169.13" y2="377.4" stroke="#000" stroke-width="1.2"/>
<line x1="220.2" y1="373.4" x2="220.2" y2="377.4" stroke="#000" stroke-width="1.2"/>
<line x1="271.27" y1="373.4" x2="271.27" y2="377.4" stroke="#000" stroke-width="1.2"/>
<line x1="322.33" y1="373.4" x2="322.33" y2="377.4" stroke="#000" stroke-width="1.2"/>
<line x1="373.4" y1="373.4" x2="373.4" y2="377.4" stroke="#000" stroke-width="1.2"/>
<g clip-path="url(#gb)" opacity="0.7"><path d="M66.8,337.5 C68.37,337.78 72.17,336.64 76.2,339.2 C82.62,343.27 92.5,358.82 105.3,361.9 C118.1,364.98 140.63,367.03 153,357.7 C165.37,348.37 168.37,303.28 179.5,305.9 C190.63,308.52 207.92,362.15 219.8,373.4 C231.06,384.06 235.3,373.4 250.8,373.4 C274.45,373.4 343.22,373.4 361.7,373.4" fill="none" stroke="#fff" stroke-width="3.2" stroke-linejoin="round"/><circle cx="66.8" cy="337.5" r="3.0999999999999996" fill="#fff"/><circle cx="76.2" cy="339.2" r="3.0999999999999996" fill="#fff"/><circle cx="105.3" cy="361.9" r="3.0999999999999996" fill="#fff"/><circle cx="153" cy="357.7" r="3.0999999999999996" fill="#fff"/><circle cx="179.5" cy="305.9" r="3.0999999999999996" fill="#fff"/><circle cx="219.8" cy="373.4" r="3.0999999999999996" fill="#fff"/><circle cx="250.8" cy="373.4" r="3.0999999999999996" fill="#fff"/><circle cx="361.7" cy="373.4" r="3.0999999999999996" fill="#fff"/></g>
<g clip-path="url(#gb)" opacity="0.7"><path d="M66.8,365.3 C68.37,365.37 71.6,364.71 76.2,365.7 C82.62,367.08 92.5,372.32 105.3,373.6 C118.1,374.88 140.63,376.43 153,373.4 C165.37,370.37 168.37,355.4 179.5,355.4 C190.63,355.4 207.92,370.4 219.8,373.4 C231.68,376.4 235.3,373.4 250.8,373.4 C274.45,373.4 343.22,373.4 361.7,373.4" fill="none" stroke="#fff" stroke-width="3.0" stroke-linejoin="round"/><circle cx="66.8" cy="365.3" r="2.6" fill="#fff"/><circle cx="76.2" cy="365.7" r="2.6" fill="#fff"/><circle cx="105.3" cy="373.6" r="2.6" fill="#fff"/><circle cx="153" cy="373.4" r="2.6" fill="#fff"/><circle cx="179.5" cy="355.4" r="2.6" fill="#fff"/><circle cx="219.8" cy="373.4" r="2.6" fill="#fff"/><circle cx="250.8" cy="373.4" r="2.6" fill="#fff"/><circle cx="361.7" cy="373.4" r="2.6" fill="#fff"/></g>
<g clip-path="url(#gb)" opacity="0.7"><path d="M66.8,349.6 C68.37,350.22 71.83,350.76 76.2,353.3 C82.62,357.03 92.5,368.65 105.3,372 C118.1,375.35 140.63,382.75 153,373.4 C165.37,364.05 168.37,315.9 179.5,315.9 C190.63,315.9 207.92,363.82 219.8,373.4 C231.68,382.98 235.3,373.4 250.8,373.4 C274.45,373.4 343.22,373.4 361.7,373.4" fill="none" stroke="#fff" stroke-width="3.2" stroke-linejoin="round"/><circle cx="66.8" cy="349.6" r="3.0999999999999996" fill="#fff"/><circle cx="76.2" cy="353.3" r="3.0999999999999996" fill="#fff"/><circle cx="105.3" cy="372" r="3.0999999999999996" fill="#fff"/><circle cx="153" cy="373.4" r="3.0999999999999996" fill="#fff"/><circle cx="179.5" cy="315.9" r="3.0999999999999996" fill="#fff"/><circle cx="219.8" cy="373.4" r="3.0999999999999996" fill="#fff"/><circle cx="250.8" cy="373.4" r="3.0999999999999996" fill="#fff"/><circle cx="361.7" cy="373.4" r="3.0999999999999996" fill="#fff"/></g>
<g clip-path="url(#gb)" opacity="0.7"><path d="M66.8,340.8 C68.37,338.63 69.78,325.88 76.2,327.8 C82.62,329.72 92.5,351.15 105.3,352.3 C118.1,353.45 140.63,342.57 153,334.7 C165.37,326.83 168.37,300.13 179.5,305.1 C190.63,310.07 207.92,353.12 219.8,364.5 C231.45,375.66 234.71,372.39 250.8,373.4 C274.45,374.88 343.22,373.4 361.7,373.4" fill="none" stroke="#fff" stroke-width="3.2" stroke-linejoin="round"/><circle cx="66.8" cy="340.8" r="3.0999999999999996" fill="#fff"/><circle cx="76.2" cy="327.8" r="3.0999999999999996" fill="#fff"/><circle cx="105.3" cy="352.3" r="3.0999999999999996" fill="#fff"/><circle cx="153" cy="334.7" r="3.0999999999999996" fill="#fff"/><circle cx="179.5" cy="305.1" r="3.0999999999999996" fill="#fff"/><circle cx="219.8" cy="364.5" r="3.0999999999999996" fill="#fff"/><circle cx="250.8" cy="373.4" r="3.0999999999999996" fill="#fff"/><circle cx="361.7" cy="373.4" r="3.0999999999999996" fill="#fff"/></g>
<g clip-path="url(#gb)" opacity="0.7"><path d="M66.8,371.3 C68.37,370.33 70.72,366.16 76.2,365.5 C82.62,364.73 92.5,368.55 105.3,366.7 C118.1,364.85 140.63,354.95 153,354.4 C165.37,353.85 168.37,360.25 179.5,363.4 C190.63,366.55 207.92,371.6 219.8,373.3 C231.68,375 235.3,373.57 250.8,373.6 C274.45,373.65 343.22,373.6 361.7,373.6" fill="none" stroke="#fff" stroke-width="3.2" stroke-linejoin="round"/><circle cx="66.8" cy="371.3" r="3.0999999999999996" fill="#fff"/><circle cx="76.2" cy="365.5" r="3.0999999999999996" fill="#fff"/><circle cx="105.3" cy="366.7" r="3.0999999999999996" fill="#fff"/><circle cx="153" cy="354.4" r="3.0999999999999996" fill="#fff"/><circle cx="179.5" cy="363.4" r="3.0999999999999996" fill="#fff"/><circle cx="219.8" cy="373.3" r="3.0999999999999996" fill="#fff"/><circle cx="250.8" cy="373.6" r="3.0999999999999996" fill="#fff"/><circle cx="361.7" cy="373.6" r="3.0999999999999996" fill="#fff"/></g>
<g clip-path="url(#gb)" opacity="0.7"><path d="M105.3,371.6 C122.52,360.18 160.42,274.85 179.5,274.3" fill="none" stroke="#fff" stroke-width="3.3" stroke-linecap="round" stroke-dasharray="3.0,4.6"/></g>
<path d="M66.8,337.5 C68.37,337.78 72.17,336.64 76.2,339.2 C82.62,343.27 92.5,358.82 105.3,361.9 C118.1,364.98 140.63,367.03 153,357.7 C165.37,348.37 168.37,303.28 179.5,305.9 C190.63,308.52 207.92,362.15 219.8,373.4 C231.06,384.06 235.3,373.4 250.8,373.4 C274.45,373.4 343.22,373.4 361.7,373.4" fill="none" stroke="#1b3d7c" stroke-width="1.6" stroke-linejoin="round" stroke-linecap="round" clip-path="url(#cb)"/>
<circle cx="66.8" cy="337.5" r="2.3" fill="#1b3d7c"/>
<circle cx="76.2" cy="339.2" r="2.3" fill="#1b3d7c"/>
<circle cx="105.3" cy="361.9" r="2.3" fill="#1b3d7c"/>
<circle cx="153" cy="357.7" r="2.3" fill="#1b3d7c"/>
<circle cx="179.5" cy="305.9" r="2.3" fill="#1b3d7c"/>
<circle cx="219.8" cy="373.4" r="2.3" fill="#1b3d7c"/>
<circle cx="250.8" cy="373.4" r="2.3" fill="#1b3d7c"/>
<circle cx="361.7" cy="373.4" r="2.3" fill="#1b3d7c"/>
<path d="M66.8,365.3 C68.37,365.37 71.6,364.71 76.2,365.7 C82.62,367.08 92.5,372.32 105.3,373.6 C118.1,374.88 140.63,376.43 153,373.4 C165.37,370.37 168.37,355.4 179.5,355.4 C190.63,355.4 207.92,370.4 219.8,373.4 C231.68,376.4 235.3,373.4 250.8,373.4 C274.45,373.4 343.22,373.4 361.7,373.4" fill="none" stroke="#5aaee4" stroke-width="1.4" stroke-linejoin="round" stroke-linecap="round" clip-path="url(#cb)"/>
<circle cx="66.8" cy="365.3" r="1.8" fill="#5aaee4"/>
<circle cx="76.2" cy="365.7" r="1.8" fill="#5aaee4"/>
<circle cx="105.3" cy="373.6" r="1.8" fill="#5aaee4"/>
<circle cx="153" cy="373.4" r="1.8" fill="#5aaee4"/>
<circle cx="179.5" cy="355.4" r="1.8" fill="#5aaee4"/>
<circle cx="219.8" cy="373.4" r="1.8" fill="#5aaee4"/>
<circle cx="250.8" cy="373.4" r="1.8" fill="#5aaee4"/>
<circle cx="361.7" cy="373.4" r="1.8" fill="#5aaee4"/>
<path d="M66.8,349.6 C68.37,350.22 71.83,350.76 76.2,353.3 C82.62,357.03 92.5,368.65 105.3,372 C118.1,375.35 140.63,382.75 153,373.4 C165.37,364.05 168.37,315.9 179.5,315.9 C190.63,315.9 207.92,363.82 219.8,373.4 C231.68,382.98 235.3,373.4 250.8,373.4 C274.45,373.4 343.22,373.4 361.7,373.4" fill="none" stroke="#67ad3b" stroke-width="1.6" stroke-linejoin="round" stroke-linecap="round" clip-path="url(#cb)"/>
<circle cx="66.8" cy="349.6" r="2.3" fill="#67ad3b"/>
<circle cx="76.2" cy="353.3" r="2.3" fill="#67ad3b"/>
<circle cx="105.3" cy="372" r="2.3" fill="#67ad3b"/>
<circle cx="153" cy="373.4" r="2.3" fill="#67ad3b"/>
<circle cx="179.5" cy="315.9" r="2.3" fill="#67ad3b"/>
<circle cx="219.8" cy="373.4" r="2.3" fill="#67ad3b"/>
<circle cx="250.8" cy="373.4" r="2.3" fill="#67ad3b"/>
<circle cx="361.7" cy="373.4" r="2.3" fill="#67ad3b"/>
<path d="M66.8,340.8 C68.37,338.63 69.78,325.88 76.2,327.8 C82.62,329.72 92.5,351.15 105.3,352.3 C118.1,353.45 140.63,342.57 153,334.7 C165.37,326.83 168.37,300.13 179.5,305.1 C190.63,310.07 207.92,353.12 219.8,364.5 C231.45,375.66 234.71,372.39 250.8,373.4 C274.45,374.88 343.22,373.4 361.7,373.4" fill="none" stroke="#8d87c7" stroke-width="1.6" stroke-linejoin="round" stroke-linecap="round" clip-path="url(#cb)"/>
<circle cx="66.8" cy="340.8" r="2.3" fill="#8d87c7"/>
<circle cx="76.2" cy="327.8" r="2.3" fill="#8d87c7"/>
<circle cx="105.3" cy="352.3" r="2.3" fill="#8d87c7"/>
<circle cx="153" cy="334.7" r="2.3" fill="#8d87c7"/>
<circle cx="179.5" cy="305.1" r="2.3" fill="#8d87c7"/>
<circle cx="219.8" cy="364.5" r="2.3" fill="#8d87c7"/>
<circle cx="250.8" cy="373.4" r="2.3" fill="#8d87c7"/>
<circle cx="361.7" cy="373.4" r="2.3" fill="#8d87c7"/>
<path d="M66.8,371.3 C68.37,370.33 70.72,366.16 76.2,365.5 C82.62,364.73 92.5,368.55 105.3,366.7 C118.1,364.85 140.63,354.95 153,354.4 C165.37,353.85 168.37,360.25 179.5,363.4 C190.63,366.55 207.92,371.6 219.8,373.3 C231.68,375 235.3,373.57 250.8,373.6 C274.45,373.65 343.22,373.6 361.7,373.6" fill="none" stroke="#f3c01b" stroke-width="1.6" stroke-linejoin="round" stroke-linecap="round" clip-path="url(#cb)"/>
<circle cx="66.8" cy="371.3" r="2.3" fill="#f3c01b"/>
<circle cx="76.2" cy="365.5" r="2.3" fill="#f3c01b"/>
<circle cx="105.3" cy="366.7" r="2.3" fill="#f3c01b"/>
<circle cx="153" cy="354.4" r="2.3" fill="#f3c01b"/>
<circle cx="179.5" cy="363.4" r="2.3" fill="#f3c01b"/>
<circle cx="219.8" cy="373.3" r="2.3" fill="#f3c01b"/>
<circle cx="250.8" cy="373.6" r="2.3" fill="#f3c01b"/>
<circle cx="361.7" cy="373.6" r="2.3" fill="#f3c01b"/>
<path d="M66.8,368.5 C68.37,364.22 69.78,342.28 76.2,342.8" fill="none" stroke="#b0122c" stroke-width="1.6" stroke-linecap="round" clip-path="url(#cb)"/>
<path d="M76.2,342.8 C82.62,343.32 88.24,382.91 105.3,371.6" fill="none" stroke="#b0122c" stroke-width="1.6" stroke-linecap="round" clip-path="url(#cb)"/>
<path d="M105.3,371.6 C122.52,360.18 160.42,274.85 179.5,274.3" fill="none" stroke="#b0122c" stroke-width="1.7" stroke-linecap="round" stroke-dasharray="3.0,4.6" clip-path="url(#cb)"/>
<path d="M179.5,274.3 C198.58,273.75 207.92,352.07 219.8,368.3" fill="none" stroke="#b0122c" stroke-width="1.6" stroke-linecap="round" clip-path="url(#cb)"/>
<path d="M219.8,368.3 C229.01,380.88 235.21,371.33 250.8,371.7" fill="none" stroke="#b0122c" stroke-width="1.6" stroke-linecap="round" clip-path="url(#cb)"/>
<path d="M250.8,371.7 C274.45,372.27 343.22,371.7 361.7,371.7" fill="none" stroke="#b0122c" stroke-width="1.6" stroke-linecap="round" clip-path="url(#cb)"/>
<circle cx="66.8" cy="368.5" r="2.3" fill="#b0122c"/>
<circle cx="76.2" cy="342.8" r="2.3" fill="#b0122c"/>
<circle cx="105.3" cy="371.6" r="2.3" fill="#b0122c"/>
<circle cx="179.5" cy="274.3" r="2.3" fill="#b0122c"/>
<circle cx="219.8" cy="368.3" r="2.3" fill="#b0122c"/>
<circle cx="250.8" cy="371.7" r="2.3" fill="#b0122c"/>
<circle cx="361.7" cy="371.7" r="2.3" fill="#b0122c"/>
<text x="44.57" y="376.15" font-size="8.7" textLength="13.45" lengthAdjust="spacingAndGlyphs" fill="#231f20" stroke="#231f20" stroke-width="0.25">0%</text>
<text x="39.4" y="359.08" font-size="8.7" textLength="18.63" lengthAdjust="spacingAndGlyphs" fill="#231f20" stroke="#231f20" stroke-width="0.25">10%</text>
<text x="39.4" y="342.02" font-size="8.7" textLength="18.63" lengthAdjust="spacingAndGlyphs" fill="#231f20" stroke="#231f20" stroke-width="0.25">20%</text>
<text x="39.4" y="324.95" font-size="8.7" textLength="18.63" lengthAdjust="spacingAndGlyphs" fill="#231f20" stroke="#231f20" stroke-width="0.25">30%</text>
<text x="39.4" y="307.88" font-size="8.7" textLength="18.63" lengthAdjust="spacingAndGlyphs" fill="#231f20" stroke="#231f20" stroke-width="0.25">40%</text>
<text x="39.4" y="290.82" font-size="8.7" textLength="18.63" lengthAdjust="spacingAndGlyphs" fill="#231f20" stroke="#231f20" stroke-width="0.25">50%</text>
<text x="39.4" y="273.75" font-size="8.7" textLength="18.63" lengthAdjust="spacingAndGlyphs" fill="#231f20" stroke="#231f20" stroke-width="0.25">60%</text>
<text x="64.41" y="390" font-size="8.7" textLength="5.18" lengthAdjust="spacingAndGlyphs" fill="#231f20" stroke="#231f20" stroke-width="0.25">0</text>
<text x="110.13" y="390" font-size="8.7" textLength="15.53" lengthAdjust="spacingAndGlyphs" fill="#231f20" stroke="#231f20" stroke-width="0.25">100</text>
<text x="161.32" y="390" font-size="8.7" textLength="15.53" lengthAdjust="spacingAndGlyphs" fill="#231f20" stroke="#231f20" stroke-width="0.25">200</text>
<text x="212.44" y="390" font-size="8.7" textLength="15.53" lengthAdjust="spacingAndGlyphs" fill="#231f20" stroke="#231f20" stroke-width="0.25">300</text>
<text x="263.58" y="390" font-size="8.7" textLength="15.53" lengthAdjust="spacingAndGlyphs" fill="#231f20" stroke="#231f20" stroke-width="0.25">400</text>
<text x="314.56" y="390" font-size="8.7" textLength="15.53" lengthAdjust="spacingAndGlyphs" fill="#231f20" stroke="#231f20" stroke-width="0.25">500</text>
<text x="365.58" y="390" font-size="8.7" textLength="15.53" lengthAdjust="spacingAndGlyphs" fill="#231f20" stroke="#231f20" stroke-width="0.25">600</text>
<text x="115" y="242.7" font-size="9" textLength="51.52" lengthAdjust="spacingAndGlyphs" fill="#231f20" stroke="#231f20" stroke-width="0.25">Spontaneous</text>
<text x="122.53" y="253.2" font-size="9" textLength="36.93" lengthAdjust="spacingAndGlyphs" fill="#231f20" stroke="#231f20" stroke-width="0.25">remission</text>
<text x="176.29" y="242.4" font-size="9" textLength="35.69" lengthAdjust="spacingAndGlyphs" fill="#231f20" stroke="#231f20" stroke-width="0.25">Induction</text>
<text x="176.75" y="253.1" font-size="9" textLength="53.17" lengthAdjust="spacingAndGlyphs" fill="#231f20" stroke="#231f20" stroke-width="0.25">chemotherapy</text>
<text x="235.88" y="242.4" font-size="9" textLength="39.74" lengthAdjust="spacingAndGlyphs" fill="#231f20" stroke="#231f20" stroke-width="0.25">Allogeneic</text>
<text x="235.49" y="253.1" font-size="9" textLength="18" lengthAdjust="spacingAndGlyphs" fill="#231f20" stroke="#231f20" stroke-width="0.25">SCT</text>
<line x1="181.7" y1="257" x2="181.7" y2="267.8" stroke="#111" stroke-width="1.2"/>
<path d="M178.6,263.9 L181.7,270.8 L184.8,263.9 L181.7,265.2 Z" fill="#111"/>
<line x1="237.8" y1="257" x2="237.8" y2="267.8" stroke="#111" stroke-width="1.2"/>
<path d="M234.7,263.9 L237.8,270.8 L240.9,263.9 L237.8,265.2 Z" fill="#111"/>
<text x="211.26" y="405.5" font-size="11.7" textLength="17.72" lengthAdjust="spacingAndGlyphs" fill="#231f20" stroke="#231f20" stroke-width="0.5">Days</text>
<text transform="translate(32.5,368.9) rotate(-90)" x="-0.69" y="0" font-size="12" textLength="94.59" lengthAdjust="spacingAndGlyphs" fill="#231f20" stroke="#231f20" stroke-width="0.5">Mutation VAF / BM blasts</text>
<line x1="422.9" y1="290.9" x2="436" y2="290.9" stroke="#1b3d7c" stroke-width="1.6"/>
<circle cx="429.3" cy="290.9" r="2.4" fill="#1b3d7c"/>
<text x="439.99" y="293.1" font-size="8.1" textLength="70.41" lengthAdjust="spacingAndGlyphs" fill="#231f20" stroke="#231f20" stroke-width="0.25">RUNX1 p.P401fs_del</text>
<line x1="422.9" y1="303.42" x2="436" y2="303.42" stroke="#5aaee4" stroke-width="1.4"/>
<circle cx="429.3" cy="303.42" r="1.8" fill="#5aaee4"/>
<text x="439.99" y="305.62" font-size="8.1" textLength="53.38" lengthAdjust="spacingAndGlyphs" fill="#231f20" stroke="#231f20" stroke-width="0.25">RUNX1 p.G87fs</text>
<line x1="422.9" y1="315.94" x2="436" y2="315.94" stroke="#67ad3b" stroke-width="1.6"/>
<circle cx="429.3" cy="315.94" r="2.4" fill="#67ad3b"/>
<text x="439.99" y="318.14" font-size="8.1" textLength="52.13" lengthAdjust="spacingAndGlyphs" fill="#231f20" stroke="#231f20" stroke-width="0.25">BCOR p.W509*</text>
<line x1="422.9" y1="328.46" x2="436" y2="328.46" stroke="#8d87c7" stroke-width="1.6"/>
<circle cx="429.3" cy="328.46" r="2.4" fill="#8d87c7"/>
<text x="440.26" y="330.66" font-size="8.1" textLength="67.35" lengthAdjust="spacingAndGlyphs" fill="#231f20" stroke="#231f20" stroke-width="0.25">SRSF2 p.95_103del</text>
<line x1="422.9" y1="340.98" x2="436" y2="340.98" stroke="#f3c01b" stroke-width="1.6"/>
<circle cx="429.3" cy="340.98" r="2.4" fill="#f3c01b"/>
<text x="439.89" y="343.18" font-size="8.1" textLength="50.37" lengthAdjust="spacingAndGlyphs" fill="#231f20" stroke="#231f20" stroke-width="0.25">IDH2 p.R140Q</text>
<line x1="422.9" y1="353.5" x2="436" y2="353.5" stroke="#b0122c" stroke-width="1.6"/>
<circle cx="429.3" cy="353.5" r="2.4" fill="#b0122c"/>
<text x="439.98" y="355.7" font-size="8.1" textLength="46.15" lengthAdjust="spacingAndGlyphs" fill="#231f20" stroke="#231f20" stroke-width="0.25">BM blasts [%]</text>
</svg>
</body></html>
